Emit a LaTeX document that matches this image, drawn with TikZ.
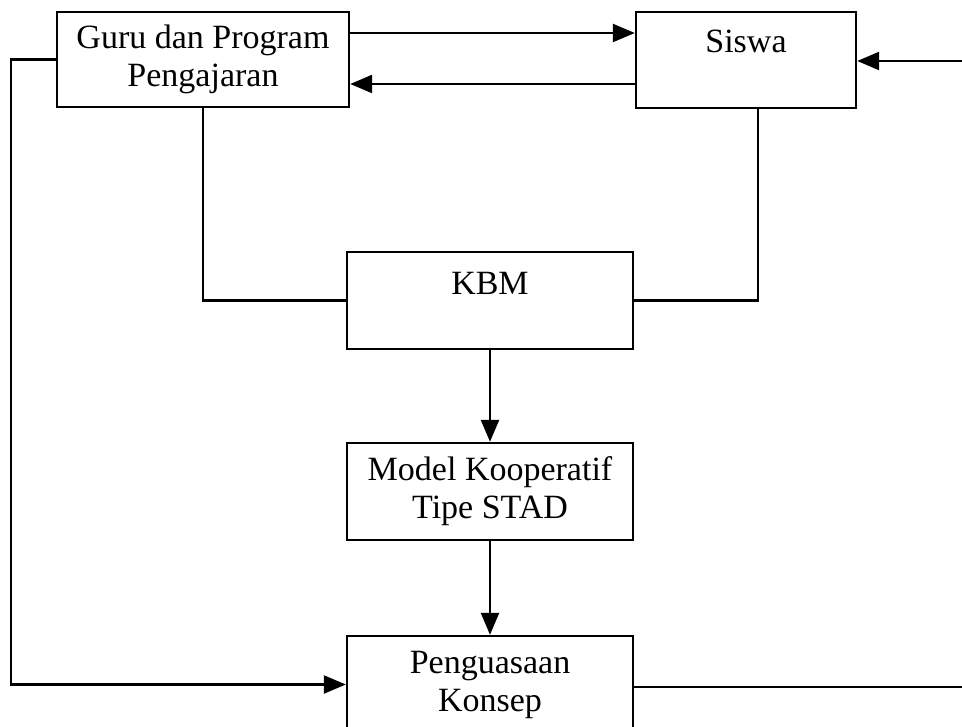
\documentclass[tikz,border=0pt]{standalone}
\usepackage{fontspec}
\setmainfont{Liberation Serif}
\usetikzlibrary{arrows.meta}
\begin{document}
\begin{tikzpicture}[x=1pt,y=-1pt,
  box/.style={draw, line width=2.4pt, rectangle, inner sep=0pt, align=center, font=\fontsize{34}{38}\selectfont},
  lbl/.style={inner sep=0pt, font=\fontsize{34}{38}\selectfont, align=center},
  conn/.style={line width=2.4pt},
  arr/.style={conn, -{Triangle[length=22pt,width=18pt]}}]
\useasboundingbox (0,0) rectangle (962,727);
\clip (0,0) rectangle (962,727);
\node[box, minimum width=292pt, minimum height=95pt] (guru) at (203,59.5) {Guru dan Program\\Pengajaran};
\node[box, minimum width=220pt, minimum height=96pt] (siswa) at (746,60) {};
\node[lbl] (siswat) at (746,41) {Siswa};
\node[box, minimum width=286pt, minimum height=97pt] (kbm) at (490,300.5) {};
\node[lbl] (kbmt) at (490,283) {KBM};
\node[box, minimum width=286pt, minimum height=97pt] (model) at (490,491.5) {Model Kooperatif\\Tipe STAD};
\node[box, minimum width=286pt, minimum height=97pt] (pen) at (490,684.5) {Penguasaan\\Konsep};
\coordinate (re1) at (962,61);
\coordinate (re2) at (962,687);
\draw[arr] ([yshift=26.5pt]guru.east) -- ([yshift=26.5pt]guru.east -| siswa.west);
\draw[arr] ([yshift=-24pt]siswa.west) -- ([yshift=-24pt]siswa.west -| guru.east);
\draw[arr] (guru.west) -- ++(-45,0) |- (pen.west);
\draw[arr] (re1) -- (re1 -| siswa.east);
\draw[conn] (re2 -| pen.east) -- (re2);
\draw[conn] (guru.south) |- (kbm.west);
\draw[conn] ([xshift=12pt]siswa.south) |- (kbm.east);
\draw[arr] (kbm) -- (model);
\draw[arr] (model) -- (pen);
\end{tikzpicture}
\end{document}
